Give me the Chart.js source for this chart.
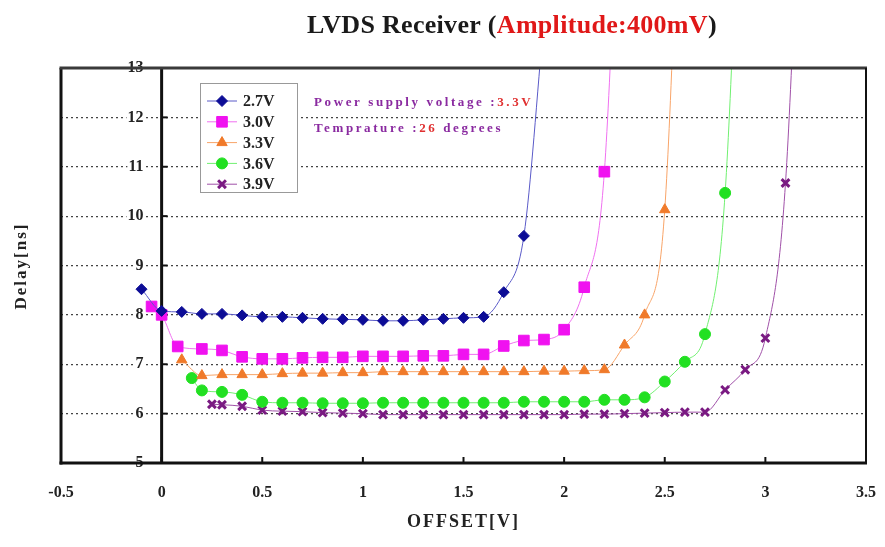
<!DOCTYPE html>
<html>
<head>
<meta charset="utf-8">
<script src="https://cdn.jsdelivr.net/npm/chart.js@4.4.1/dist/chart.umd.min.js"></script>
<style>
  body { margin: 0; background: #fff; }
  #wrap { width: 885px; height: 547px; }
</style>
</head>
<body>
<div id="wrap"><canvas id="myChart"></canvas></div>
<script>
// supply voltages (legend)
const seriesLabels = ['2.7V', '3.0V', '3.3V', '3.6V', '3.9V'];

// offset [V] / delay [ns], one pair per supply voltage
const offset27 = [-0.1, 0, 0.1, 0.2, 0.3, 0.4, 0.5, 0.6, 0.7, 0.8, 0.9, 1.0, 1.1, 1.2, 1.3, 1.4, 1.5, 1.6, 1.7, 1.8, 1.9];
const delay27 = [8.52, 8.08, 8.06, 8.02, 8.02, 7.99, 7.96, 7.96, 7.94, 7.92, 7.91, 7.90, 7.88, 7.88, 7.90, 7.92, 7.94, 7.96, 8.46, 9.60, 14.0];

const offset30 = [-0.05, 0, 0.08, 0.2, 0.3, 0.4, 0.5, 0.6, 0.7, 0.8, 0.9, 1.0, 1.1, 1.2, 1.3, 1.4, 1.5, 1.6, 1.7, 1.8, 1.9, 2.0, 2.1, 2.2, 2.3];
const delay30 = [8.17, 8.0, 7.36, 7.31, 7.28, 7.15, 7.11, 7.11, 7.13, 7.14, 7.14, 7.16, 7.16, 7.16, 7.17, 7.17, 7.2, 7.2, 7.37, 7.48, 7.5, 7.7, 8.56, 10.9, 20];

const offset33 = [0.1, 0.2, 0.3, 0.4, 0.5, 0.6, 0.7, 0.8, 0.9, 1.0, 1.1, 1.2, 1.3, 1.4, 1.5, 1.6, 1.7, 1.8, 1.9, 2.0, 2.1, 2.2, 2.3, 2.4, 2.5, 2.6];
const delay33 = [7.09, 6.77, 6.79, 6.79, 6.79, 6.81, 6.82, 6.82, 6.83, 6.83, 6.85, 6.85, 6.85, 6.85, 6.85, 6.85, 6.85, 6.85, 6.86, 6.86, 6.87, 6.89, 7.39, 8.0, 10.13, 20];

const offset36 = [0.15, 0.2, 0.3, 0.4, 0.5, 0.6, 0.7, 0.8, 0.9, 1.0, 1.1, 1.2, 1.3, 1.4, 1.5, 1.6, 1.7, 1.8, 1.9, 2.0, 2.1, 2.2, 2.3, 2.4, 2.5, 2.6, 2.7, 2.8, 2.9];
const delay36 = [6.72, 6.47, 6.44, 6.38, 6.24, 6.22, 6.22, 6.21, 6.21, 6.21, 6.22, 6.22, 6.22, 6.22, 6.22, 6.22, 6.22, 6.24, 6.24, 6.24, 6.24, 6.28, 6.28, 6.33, 6.65, 7.05, 7.61, 10.47, 20];

const offset39 = [0.25, 0.3, 0.4, 0.5, 0.6, 0.7, 0.8, 0.9, 1.0, 1.1, 1.2, 1.3, 1.4, 1.5, 1.6, 1.7, 1.8, 1.9, 2.0, 2.1, 2.2, 2.3, 2.4, 2.5, 2.6, 2.7, 2.8, 2.9, 3.0, 3.1, 3.2];
const delay39 = [6.19, 6.18, 6.15, 6.07, 6.05, 6.04, 6.02, 6.01, 6.0, 5.98, 5.98, 5.98, 5.98, 5.98, 5.98, 5.98, 5.98, 5.98, 5.98, 5.99, 5.99, 6.0, 6.01, 6.02, 6.03, 6.03, 6.48, 6.89, 7.53, 10.67, 20];

const xTicks = [-0.5, 0, 0.5, 1, 1.5, 2, 2.5, 3, 3.5];
const yTicks = [5, 6, 7, 8, 9, 10, 11, 12, 13];

const serif = '"Liberation Serif", "DejaVu Serif", serif';

function toPoints(xs, ys) {
    return xs.map((v, i) => ({ x: v, y: ys[i] }));
}

function makeSet(label, xs, ys, color, lineColor, style, radius, bw) {
    return {
        label: label,
        data: toPoints(xs, ys),
        borderColor: lineColor,
        borderWidth: 1,
        backgroundColor: color,
        pointBackgroundColor: color,
        pointBorderColor: color,
        pointBorderWidth: bw,
        pointStyle: style,
        pointRadius: radius,
        cubicInterpolationMode: 'monotone',
        fill: false
    };
}

const datasets = [
    makeSet(seriesLabels[0], offset27, delay27, '#0c0c96', '#5a5ac8', 'rectRot', 5.5, 1),
    makeSet(seriesLabels[1], offset30, delay30, '#f012f0', '#f070f0', 'rect', 7.5, 1),
    makeSet(seriesLabels[2], offset33, delay33, '#f07a2a', '#f8a468', 'triangle', 6, 1),
    makeSet(seriesLabels[3], offset36, delay36, '#22e022', '#70f070', 'circle', 5.5, 1),
    makeSet(seriesLabels[4], offset39, delay39, '#7a1a82', '#a050a8', 'crossRot', 5.5, 3)
];

function hline(ctx, x1, y1, x2, y2) {
    ctx.beginPath();
    ctx.moveTo(x1, y1);
    ctx.lineTo(x2, y2);
    ctx.stroke();
}

function drawRuns(ctx, runs, x, y) {
    runs.forEach(r => {
        ctx.fillStyle = r[1];
        ctx.fillText(r[0], x, y);
        x += ctx.measureText(r[0]).width;
    });
}

// y axis line at offset 0, frame, inner tick marks, titles, notes and the boxed legend
const decor = {
    id: 'decor',
    beforeDatasetsDraw(chart) {
        const { ctx, chartArea: a, scales } = chart;
        const x0 = scales.x.getPixelForValue(0);
        ctx.save();
        ctx.strokeStyle = '#111';
        ctx.lineWidth = 3;
        hline(ctx, x0, a.top, x0, a.bottom);
        ctx.lineWidth = 2;
        yTicks.forEach(v => {
            const py = scales.y.getPixelForValue(v);
            hline(ctx, x0, py, x0 + 6, py);
        });
        ctx.restore();
    },
    afterDraw(chart) {
        const { ctx, chartArea: a, scales } = chart;
        const x = scales.x;
        ctx.save();

        // x tick marks pointing into the plot
        ctx.strokeStyle = '#111';
        ctx.lineWidth = 2;
        xTicks.forEach(v => {
            const px = x.getPixelForValue(v);
            hline(ctx, px, a.bottom, px, a.bottom - 6);
        });

        // frame
        ctx.lineWidth = 3;
        ctx.strokeStyle = '#111';
        hline(ctx, a.left, a.top, a.left, a.bottom + 1.5);
        hline(ctx, a.left - 1.5, a.bottom, a.right + 1, a.bottom);
        ctx.strokeStyle = '#3a3a3a';
        hline(ctx, a.left - 1.5, a.top, a.right + 1, a.top);
        ctx.lineWidth = 2;
        ctx.strokeStyle = '#111';
        hline(ctx, a.right, a.top, a.right, a.bottom);

        // title
        ctx.font = 'bold 26px ' + serif;
        ctx.textBaseline = 'middle';
        ctx.textAlign = 'left';
        ctx.letterSpacing = '0.3px';
        drawRuns(ctx, [['LVDS Receiver ', '#1a1a1a'], ['(', '#1a1a1a'], ['Amplitude:400mV', '#e01818'], [')', '#1a1a1a']], 307, 26);

        // axis titles
        ctx.letterSpacing = '2px';
        ctx.textAlign = 'center';
        ctx.fillStyle = '#222';
        ctx.font = 'bold 18px ' + serif;
        ctx.fillText('OFFSET[V]', (a.left + a.right) / 2, 522);
        ctx.save();
        ctx.translate(22, 266);
        ctx.rotate(-Math.PI / 2);
        ctx.font = 'bold 17px ' + serif;
        ctx.fillText('Delay[ns]', 0, 0);
        ctx.restore();

        // notes
        ctx.textAlign = 'left';
        ctx.font = 'bold 13px ' + serif;
        ctx.letterSpacing = '2.6px';
        drawRuns(ctx, [['Power supply voltage :', '#8a2aa0'], ['3.3V', '#e03030']], 314, 103);
        drawRuns(ctx, [['Temprature :', '#8a2aa0'], ['26', '#e03030'], [' degrees', '#8a2aa0']], 314, 129);
        ctx.letterSpacing = '0px';

        // legend box
        ctx.fillStyle = '#fff';
        ctx.fillRect(200, 83, 97, 109);
        ctx.strokeStyle = '#999';
        ctx.lineWidth = 1;
        ctx.strokeRect(200.5, 83.5, 97, 109);
        ctx.font = 'bold 16px ' + serif;
        chart.data.datasets.forEach((ds, i) => {
            const cy = 101 + i * 20.8;
            ctx.strokeStyle = ds.borderColor;
            ctx.lineWidth = 1;
            hline(ctx, 207, cy, 237, cy);
            ctx.fillStyle = ds.pointBackgroundColor;
            ctx.strokeStyle = ds.pointBorderColor;
            ctx.lineWidth = ds.pointBorderWidth;
            Chart.helpers.drawPoint(ctx, {
                pointStyle: ds.pointStyle,
                radius: ds.pointRadius,
                rotation: 0,
                borderWidth: ds.pointBorderWidth
            }, 222, cy);
            ctx.fillStyle = '#222';
            ctx.fillText(ds.label, 243, cy + 1);
        });
        ctx.restore();
    }
};

var ctx = document.getElementById('myChart');
var myChart = new Chart(ctx, {
    type: 'line',
    data: { datasets: datasets },
    options: {
        responsive: true,
        maintainAspectRatio: false,
        animation: false,
        layout: { padding: { left: 61, right: 19, top: 68, bottom: 0 } },
        plugins: {
            legend: { display: false },
            tooltip: { enabled: false }
        },
        scales: {
            x: {
                type: 'linear',
                min: -0.5,
                max: 3.5,
                afterBuildTicks: s => { s.ticks = xTicks.map(v => ({ value: v })); },
                afterFit: s => { s.height = 84; s.paddingLeft = 0; s.paddingRight = 0; },
                grid: { display: false },
                border: { display: false },
                ticks: {
                    padding: 12,
                    color: '#222',
                    font: { family: serif, size: 16, weight: 'bold' },
                    callback: v => String(v)
                }
            },
            y: {
                // labels sit a little left of the offset-0 axis line
                position: { x: -0.09 },
                min: 5,
                max: 13,
                afterBuildTicks: s => { s.ticks = yTicks.map(v => ({ value: v })); },
                afterFit: s => { s.paddingTop = 0; s.paddingBottom = 0; },
                grid: { color: '#444', lineWidth: 1.2, drawTicks: false },
                border: { display: true, color: 'rgba(0,0,0,0)', width: 0, dash: [2, 3] },
                ticks: {
                    color: '#222',
                    showLabelBackdrop: true,
                    backdropColor: '#fff',
                    backdropPadding: 1,
                    font: { family: serif, size: 16, weight: 'bold' }
                }
            }
        }
    },
    plugins: [decor]
});
</script>
</body>
</html>
